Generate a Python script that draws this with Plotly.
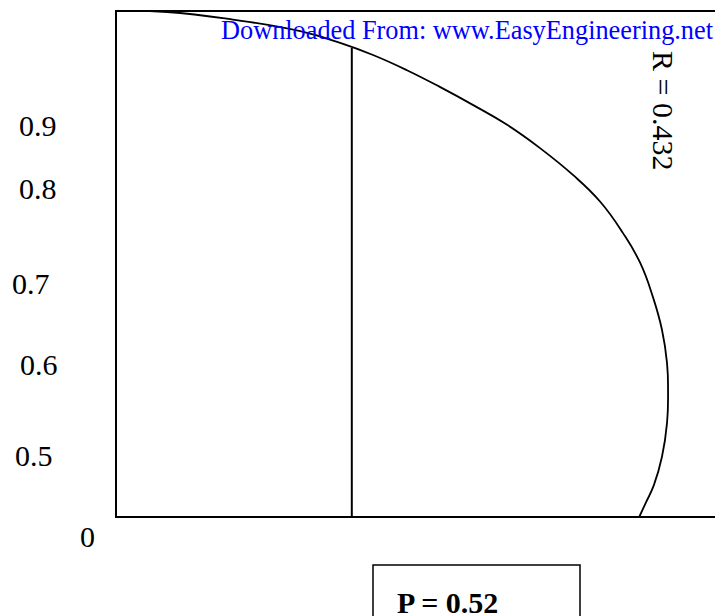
import plotly.graph_objects as go

# ---- data (diagram units: box spans x 0..~1.2, y 0..1) ----
curve_x = [0.0, 0.101, 0.231, 0.364, 0.443, 0.508, 0.575, 0.640, 0.706, 0.773,
           0.838, 0.903, 0.957, 1.002, 1.036, 1.061, 1.079, 1.089, 1.091, 1.089,
           1.079, 1.063, 1.047, 1.034]
curve_y = [1.0, 0.998, 0.983, 0.960, 0.937, 0.913, 0.883, 0.850, 0.814, 0.775,
           0.729, 0.676, 0.623, 0.561, 0.502, 0.435, 0.370, 0.304, 0.247, 0.186,
           0.119, 0.063, 0.028, 0.0]
p_value_x = 0.466          # vertical line position
p_value_top = 0.927        # meets the curve
y_labels = ["0.9", "0.8", "0.7", "0.6", "0.5", "0"]
r_label = "R = 0.432"
p_label = "P = 0.52"
watermark = "Downloaded From: www.EasyEngineering.net"

# ---- layout (page pixels; the page body has an 8px margin) ----
OFF = 8
WIN_W, WIN_H = 723, 616
W, H = WIN_W - OFF, WIN_H - OFF
label_px = [(17, 125), (17, 188), (10, 283), (18, 364), (13, 455), (78, 536)]
X0_PX, Y0_PX, UNIT_PX = 116, 517, 506   # box origin and unit length in pixels

SERIF = "Liberation Serif, Times New Roman, serif"

fig = go.Figure()

# frame (open on the right, like the reference)
fig.add_trace(go.Scatter(x=[1.3, 0, 0, 1.3], y=[1, 1, 0, 0], mode="lines",
                         line=dict(color="black", width=2), hoverinfo="skip"))
# curve
fig.add_trace(go.Scatter(x=curve_x, y=curve_y, mode="lines",
                         line=dict(color="black", width=1.8, shape="spline", smoothing=1.3),
                         hoverinfo="skip"))
# vertical line
fig.add_trace(go.Scatter(x=[p_value_x, p_value_x], y=[0, p_value_top], mode="lines",
                         line=dict(color="black", width=2), hoverinfo="skip"))


def px(xp):
    return (xp - OFF) / W


def py(yp):
    return 1 - (yp - OFF) / H


ann = []
for t, (lx, ly) in zip(y_labels, label_px):
    ann.append(dict(text=t, x=px(lx), y=py(ly), xref="paper", yref="paper",
                    xanchor="left", yanchor="middle", showarrow=False,
                    font=dict(family=SERIF, size=30, color="black")))

ann.append(dict(text=watermark, x=px(219), y=py(31), xref="paper", yref="paper",
                xanchor="left", yanchor="middle", showarrow=False,
                font=dict(family=SERIF, size=26.3, color="#0000FF")))

ann.append(dict(text=r_label, x=px(664), y=py(110), xref="paper", yref="paper",
                xanchor="center", yanchor="middle", showarrow=False, textangle=90,
                font=dict(family=SERIF, size=30, color="black")))

ann.append(dict(text="<b>" + p_label + "</b>", x=px(395), y=py(602), xref="paper", yref="paper",
                xanchor="left", yanchor="middle", showarrow=False,
                font=dict(family=SERIF, size=30, color="black")))

shapes = [dict(type="rect", xref="paper", yref="paper",
               x0=px(373), x1=px(580), y0=py(640), y1=py(565),
               line=dict(color="black", width=1.5), fillcolor="rgba(0,0,0,0)")]

fig.update_layout(
    width=W, height=H,
    margin=dict(l=0, r=0, t=0, b=0),
    paper_bgcolor="white", plot_bgcolor="white",
    showlegend=False,
    xaxis=dict(range=[(OFF - X0_PX) / UNIT_PX, (WIN_W - X0_PX) / UNIT_PX],
               visible=False, fixedrange=True),
    yaxis=dict(range=[(Y0_PX - WIN_H) / UNIT_PX, (Y0_PX - OFF) / UNIT_PX],
               visible=False, fixedrange=True),
    annotations=ann,
    shapes=shapes,
)

fig.write_html("out.html")
